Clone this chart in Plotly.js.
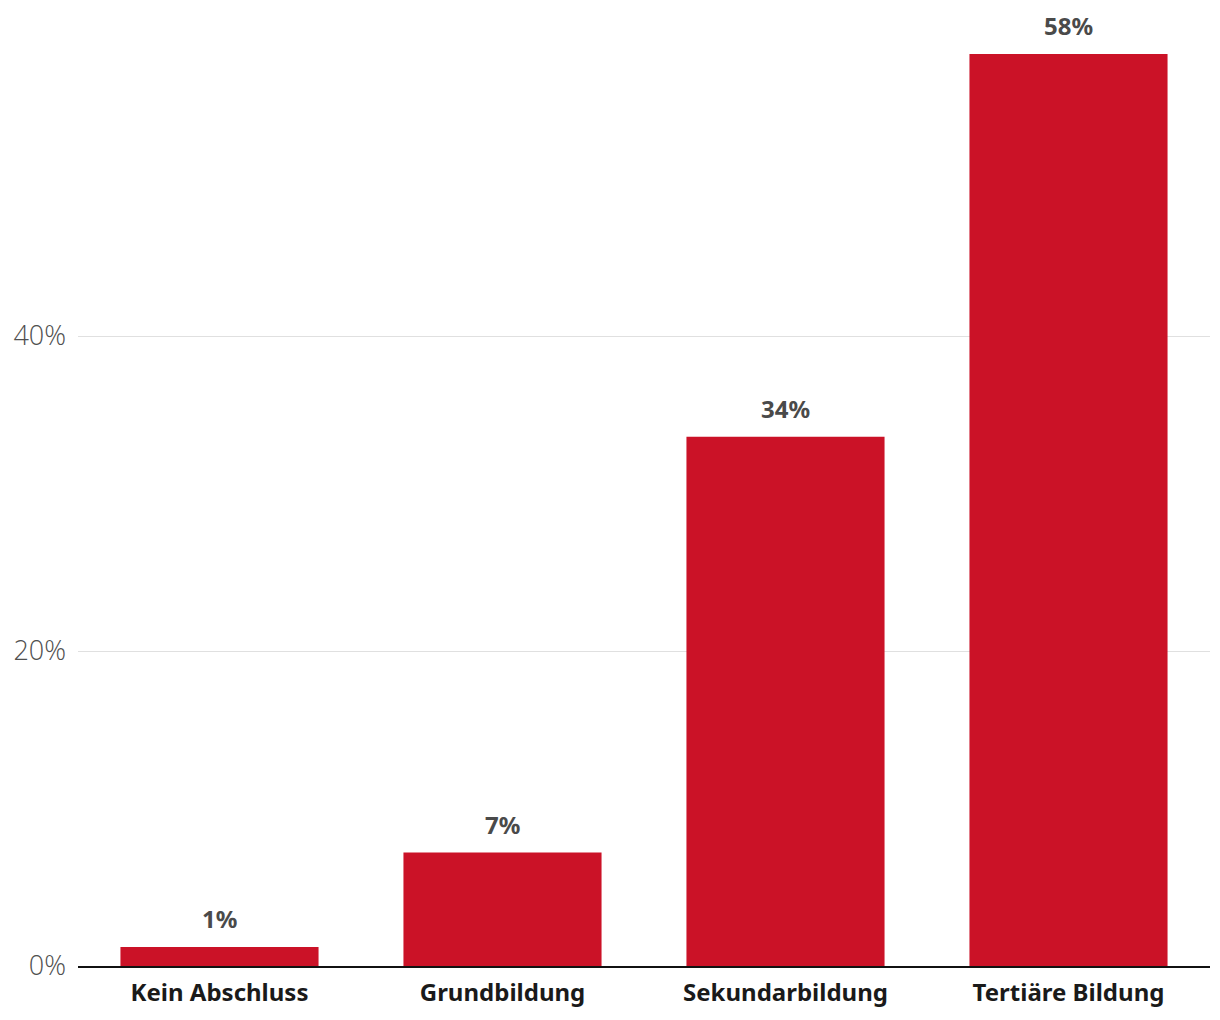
<!DOCTYPE html>
<html>
<head>
<meta charset="utf-8">
<script src="https://cdn.plot.ly/plotly-3.0.1.min.js"></script>
<style>html,body{margin:0;padding:0;background:#fff}#chart{width:1220px;height:1020px}</style>
</head>
<body>
<div id="chart"></div>
<script>
const categories = ["Kein Abschluss", "Grundbildung", "Sekundarbildung", "Tertiäre Bildung"];
const values = [1.2, 7.2, 33.6, 57.9];
const labels = ["1%", "7%", "34%", "58%"];
const yTicks = [0, 20, 40];
const yTickText = ["0%", "20%", "40%"];

const trace = {
  type: 'bar',
  x: categories,
  y: values,
  marker: {color: '#cb1227'},
  hoverinfo: 'skip'
};

const annotations = categories.map((c, i) => ({
  x: c, y: values[i], xref: 'x', yref: 'y',
  text: labels[i], showarrow: false, yanchor: 'bottom', yshift: 10,
  font: {family: 'Noto Sans, sans-serif', size: 24, color: '#4a4a4a', weight: 'bold'}
}));

const layout = {
  width: 1220, height: 1020,
  margin: {l: 78, r: 10, t: 21, b: 54},
  paper_bgcolor: '#fff', plot_bgcolor: '#fff',
  bargap: 0.3,
  showlegend: false,
  xaxis: {
    showline: true, linecolor: '#111', linewidth: 2,
    ticks: '', showgrid: false, ticklabelstandoff: 4,
    tickfont: {family: 'Noto Sans, sans-serif', size: 24, color: '#1a1a1a', weight: 'bold'}
  },
  yaxis: {
    range: [0, 60], tickmode: 'array', tickvals: yTicks, ticktext: yTickText,
    showgrid: true, gridcolor: '#e0e0e0', gridwidth: 1,
    zeroline: false, ticks: '', ticklabelstandoff: 11,
    tickfont: {family: 'Open Sans, sans-serif', size: 27, color: '#505050', weight: 300}
  },
  annotations: annotations
};

Plotly.newPlot('chart', [trace], layout, {displayModeBar: false, staticPlot: true});
</script>
</body>
</html>
